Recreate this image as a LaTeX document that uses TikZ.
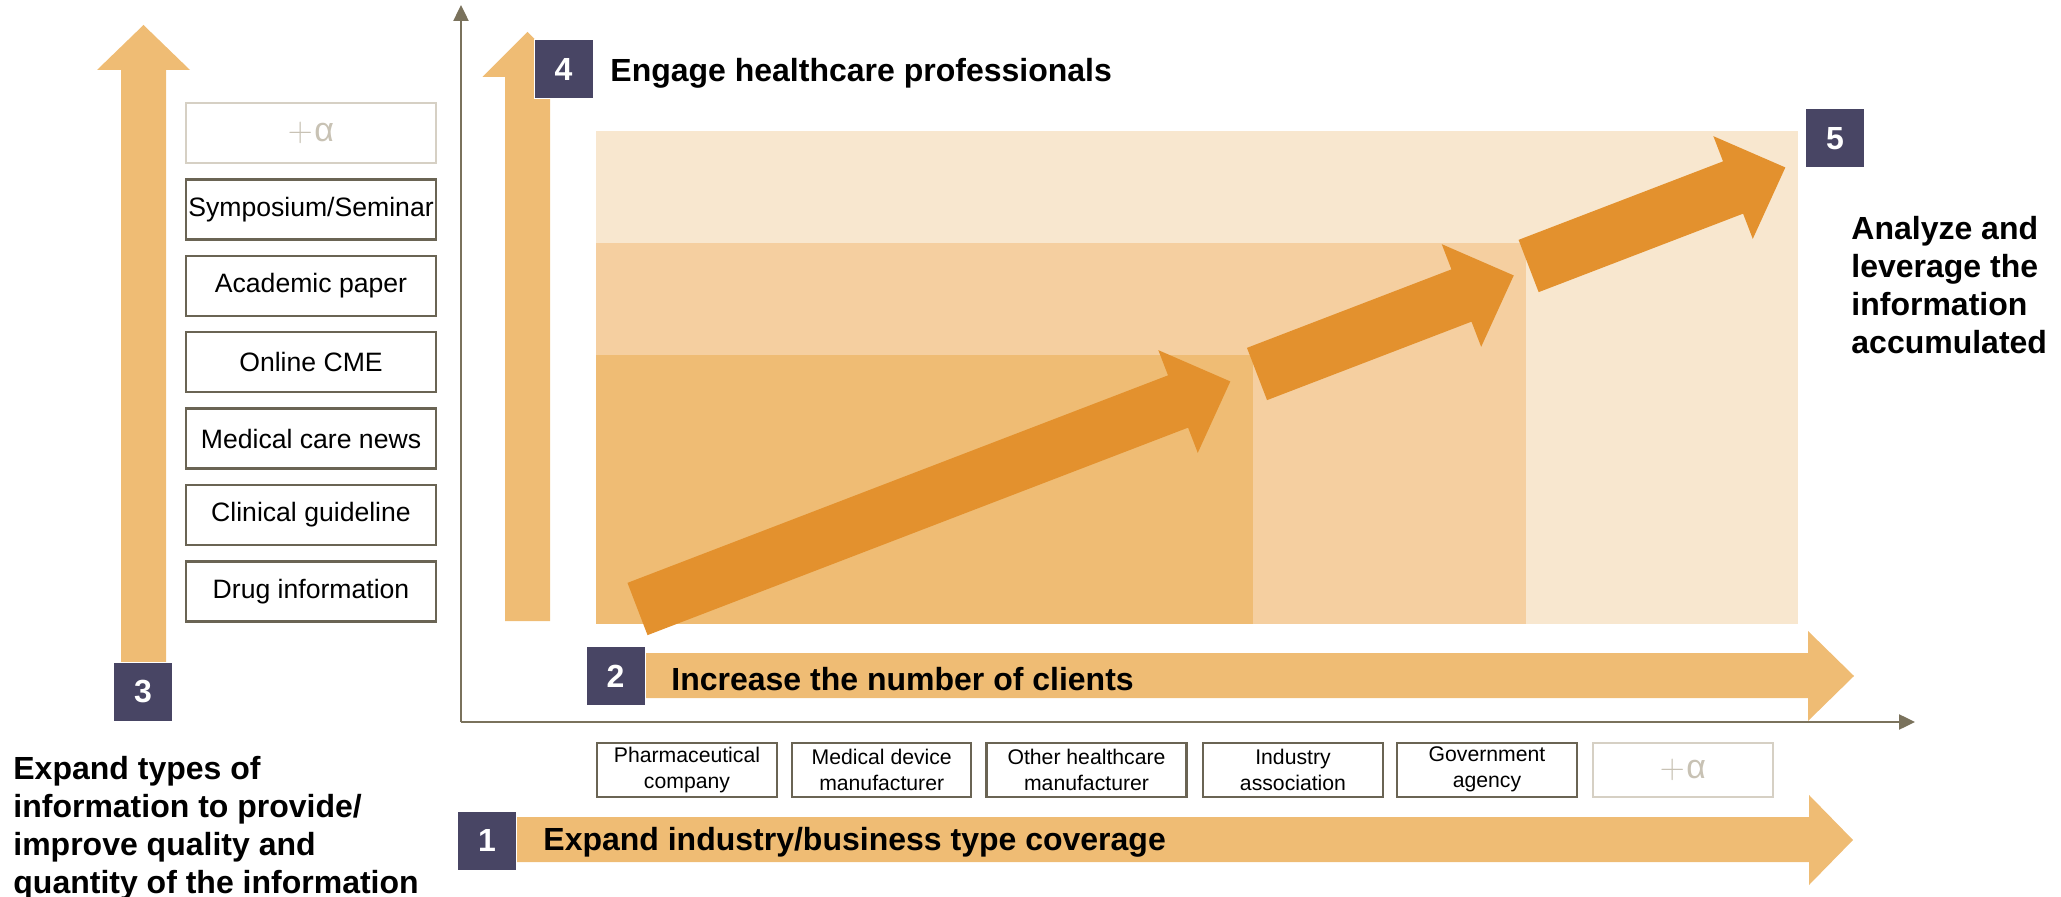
\documentclass[tikz,border=0pt]{standalone}
\usepackage{fontspec}
\setmainfont{Liberation Sans}
\usetikzlibrary{arrows.meta}
\definecolor{lightarrow}{HTML}{EFBC74}
\definecolor{regmed}{HTML}{F5CFA0}
\definecolor{reglight}{HTML}{F8E7CF}
\definecolor{darkorange}{HTML}{E3912E}
\definecolor{navy}{HTML}{484564}
\definecolor{axiscol}{HTML}{7A725C}
\definecolor{boxline}{HTML}{6A6454}
\definecolor{alphaline}{HTML}{D6D0C4}
\definecolor{alphatext}{HTML}{C8C2B4}
\newcommand\fatarrowshape[3]{%
  \fill[darkorange, shift={(#1,#2)}, rotate=21]
    (0,-28) -- ({#3-56},-28) -- ({#3-56},-55) -- (#3,0) -- ({#3-56},55) -- ({#3-56},28) -- (0,28) -- cycle;}
\newcommand\plusalpha{$+$\kern0.05em α}
\begin{document}
\begin{tikzpicture}[x=0.5pt,y=-0.5pt,
  numbox/.style={fill=navy, draw=white, line width=0.5pt, text=white,
    font=\bfseries\fontsize{16}{19}\selectfont, minimum width=29.5pt, minimum height=29.5pt, inner sep=0pt},
  infobox/.style={draw=boxline, line width=1.2pt, fill=white,
    font=\fontsize{13.3}{16}\selectfont, minimum width=125pt, minimum height=30pt, inner sep=0pt},
  alphabox/.style={draw=alphaline, line width=1pt, fill=white, text=alphatext,
    font=\fontsize{17}{19}\selectfont, minimum height=30pt, inner sep=0pt},
  orgbox/.style={draw=boxline, line width=1.2pt, fill=white, align=center,
    font=\fontsize{10.6}{13}\selectfont, minimum height=27pt, inner sep=0pt},
  title/.style={font=\bfseries\fontsize{16}{19}\selectfont, inner sep=0pt},
  axisline/.style={draw=axiscol, line width=1.2pt, -{Triangle[length=8pt,width=7.5pt]}}
]
\useasboundingbox (0,0) rectangle (2061,897);

% regions
\fill[reglight] (596,131.4) rectangle (1798,623.7);
\fill[regmed] (596,243.5) rectangle (1526,623.7);
\fill[lightarrow] (596,355) rectangle (1253,623.7);

% dark orange arrows
\fatarrowshape{637.5}{609}{635}
\fatarrowshape{1257}{374}{275}
\fatarrowshape{1528.6}{266}{275}

% axes
\coordinate (origin) at (461,722);
\coordinate (ytop) at (461,5);
\coordinate (xend) at (1915,722);
\draw[axisline] (origin) -- (ytop);
\draw[axisline] (origin) -- (xend);

% light arrows
\fill[lightarrow] (121,662) -- (121,70) -- (97,70) -- (143.5,25) -- (190,70) -- (166,70) -- (166,662) -- cycle;
\fill[lightarrow] (505,621) -- (505,77) -- (482.5,77) -- (527.5,32) -- (572.5,77) -- (550,77) -- (550,621) -- cycle;
\fill[lightarrow] (645,653) -- (1808,653) -- (1808,631) -- (1854,676) -- (1808,721) -- (1808,698) -- (645,698) -- cycle;
\fill[lightarrow] (516,817) -- (1809,817) -- (1809,795) -- (1853,840) -- (1809,885) -- (1809,862) -- (516,862) -- cycle;

% number boxes
\node[numbox] (n1) at (487,840.5) {1};
\node[numbox] (n2) at (615.5,676) {2};
\node[numbox] (n3) at (143,692) {3};
\node[numbox] (n4) at (563.5,69) {4};
\node[numbox] (n5) at (1835,138.5) {5};

% info type boxes
\node[alphabox, minimum width=125pt] (ia) at (311,133) {\plusalpha};
\node[infobox] (i6) at (311,209.4) {Symposium/Seminar};
\node[infobox] (i5) at (311,285.8) {Academic paper};
\node[infobox] (i4) at (311,362.2) {Online CME};
\node[infobox] (i3) at (311,438.6) {Medical care news};
\node[infobox] (i2) at (311,515) {Clinical guideline};
\node[infobox] (i1) at (311,591.4) {Drug information};

% organisation boxes
\node[orgbox, minimum width=90pt] (o1) at (687,769.7) {Pharmaceutical\\company};
\node[orgbox, minimum width=89.5pt] (o2) at (881.7,769.7) {Medical device\\manufacturer};
\node[orgbox, minimum width=100pt] (o3) at (1086.5,769.7) {Other healthcare\\manufacturer};
\node[orgbox, minimum width=90pt] (o4) at (1293,769.7) {Industry\\association};
\node[orgbox, minimum width=90pt] (o5) at (1487,769.7) {Government\\agency};
\node[alphabox, minimum width=90pt, minimum height=27pt] (o6) at (1683,769.7) {\plusalpha};

% titles
\node[title, anchor=base west] (t4) at (610,81.5) {Engage healthcare professionals};
\node[title, anchor=base west] (t2) at (671,690) {Increase the number of clients};
\node[title, anchor=base west] (t1) at (543,850) {Expand industry/business type coverage};
\node[title, anchor=base west] (t3) at (13,779) {\begin{tabular}[t]{@{}l@{}}Expand types of\\information to provide/\\improve quality and\\quantity of the information\end{tabular}};
\node[title, anchor=base west] (t5) at (1851,239.5) {\begin{tabular}[t]{@{}l@{}}Analyze and\\leverage the\\information\\accumulated\end{tabular}};
\end{tikzpicture}
\end{document}
